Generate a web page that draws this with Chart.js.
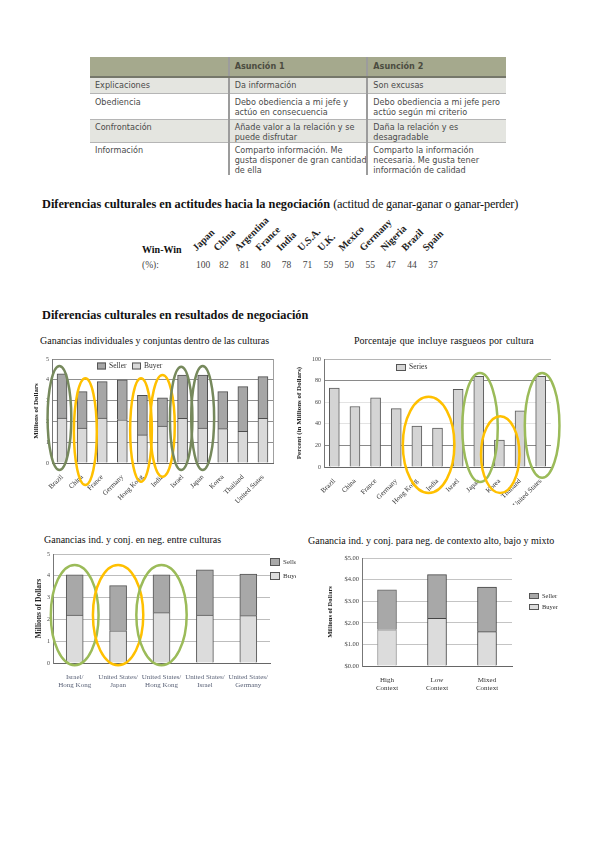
<!DOCTYPE html>
<html>
<head>
<meta charset="utf-8">
<script src="https://cdn.jsdelivr.net/npm/chart.js@4.4.1/dist/chart.umd.min.js"></script>
<style>
  body { margin: 0; width: 600px; height: 848px; background: #fff; position: relative; overflow: hidden;
         font-family: "Liberation Serif", serif; color: #111; }
  .abs { position: absolute; white-space: nowrap; }
  canvas { position: absolute; }

  #tabla { position: absolute; left: 90px; top: 57px; width: 416px; height: 118px; overflow: hidden; }
  #tabla table { border-collapse: collapse; width: 416px; table-layout: fixed;
                 font-family: "DejaVu Sans", sans-serif; font-size: 8.1px; color: #4a4a4a; }
  #tabla th { background: #a5a98d; height: 17px; text-align: left; padding: 0 5px 2px; font-weight: bold;
              color: #4b4c40; border-bottom: 2px solid #75776a; }
  #tabla td { vertical-align: top; padding: 2px 5px 0; line-height: 10px; border-top: 1px solid #b5b5b5;
              white-space: pre; overflow: hidden; }
  #tabla th + th, #tabla td + td { border-left: 2px solid #9c9c9c; }
  #tabla tr.f1 td, #tabla tr.f3 td { background: #e4e5e0; }
  #tabla tr.f1 td { height: 13px; }
  #tabla tr.f2 td { height: 22px; padding-top: 3px; }
  #tabla tr.f3 td { height: 20px; }
  #tabla tr.f4 td { height: 31px; }

  .titulo { font-size: 12.3px; }
  .tgraf { font-size: 10px; color: #111; }
  .pais { position: absolute; font-weight: bold; font-size: 10px; transform-origin: 0 100%;
          transform: rotate(-45deg); white-space: nowrap; color: #222; }
  .num { position: absolute; font-size: 9.5px; color: #444; width: 20px; text-align: center; }
</style>
</head>
<body>

<div id="tabla"></div>

<div class="abs titulo" style="left:42px; top:197px;"><b>Diferencias culturales en actitudes hacia la negociación</b> <span style="letter-spacing:-0.2px">(actitud de ganar-ganar o ganar-perder)</span></div>

<div id="winwin">
  <div class="abs" style="left:142px; top:244px; font-size:10px; font-weight:bold;">Win-Win</div>
  <div class="abs" style="left:142px; top:260px; font-size:9.5px; color:#444;">(%):</div>
</div>

<div class="abs titulo" style="left:42px; top:308px;"><b>Diferencias culturales en resultados de negociación</b></div>

<div class="abs tgraf" style="left:40px; top:335px;">Ganancias individuales y conjuntas dentro de las culturas</div>
<div class="abs tgraf" style="left:354px; top:335px; word-spacing:1px;">Porcentaje que incluye rasgueos por cultura</div>
<div class="abs tgraf" style="left:44px; top:534px;">Ganancias ind. y conj. en neg. entre culturas</div>
<div class="abs tgraf" style="left:308px; top:535px;">Ganancia ind. y conj. para neg. de contexto alto, bajo y mixto</div>

<canvas id="c1" width="258" height="172" style="left:28px; top:333px;"></canvas>
<canvas id="c2" width="280" height="172" style="left:290px; top:333px;"></canvas>
<canvas id="c3" width="268" height="160" style="left:28px; top:530px;"></canvas>
<canvas id="c4" width="270" height="160" style="left:300px; top:530px;"></canvas>

<script>
// --- tabla de supuestos ---
const tablaCabecera = ['', 'Asunción 1', 'Asunción 2'];
const tablaFilas = [
  ['Explicaciones', 'Da información', 'Son excusas'],
  ['Obediencia', 'Debo obediencia a mi jefe y\nactúo en consecuencia', 'Debo obediencia a mi jefe pero\nactúo según mi criterio'],
  ['Confrontación', 'Añade valor a la relación y se\npuede disfrutar', 'Daña la relación y es\ndesagradable'],
  ['Información', 'Comparto información. Me\ngusta disponer de gran cantidad\nde ella', 'Comparto la información\nnecesaria. Me gusta tener\ninformación de calidad']
];

// --- actitud ganar-ganar ---
const paisesWinWin = ['Japan', 'China', 'Argentina', 'France', 'India', 'U.S.A.', 'U.K.', 'Mexico', 'Germany', 'Nigeria', 'Brazil', 'Spain'];
const porcWinWin = [100, 82, 81, 80, 78, 71, 59, 50, 55, 47, 44, 37];

// --- grafico 1: dentro de las culturas ---
const culturas1 = ['Brazil', 'China', 'France', 'Germany', 'Hong Kong', 'India', 'Israel', 'Japan', 'Korea', 'Thailand', 'United States'];
const comprador1 = [2.16, 1.68, 2.16, 2.08, 1.35, 1.78, 2.15, 1.68, 1.65, 1.52, 2.15];
const vendedor1 = [2.13, 1.75, 1.75, 1.92, 1.90, 1.35, 2.08, 2.55, 1.78, 2.15, 2.00];

// --- grafico 2: rasgueos ---
const culturas2 = ['Brazil', 'China', 'France', 'Germany', 'Hong Kong', 'India', 'Israel', 'Japan', 'Korea', 'Thailand', 'United States'];
const rasgueos2 = [73, 56, 64, 54, 38, 36, 72, 84, 25, 52, 84];

// --- grafico 3: entre culturas ---
const parejas3 = [['Israel/', 'Hong Kong'], ['United States/', 'Japan'], ['United States/', 'Hong Kong'], ['United States/', 'Israel'], ['United States/', 'Germany']];
const comprador3 = [2.20, 1.48, 2.31, 2.20, 2.17];
const vendedor3 = [1.85, 2.07, 1.74, 2.07, 1.91];

// --- grafico 4: contexto ---
const contextos4 = [['High', 'Context'], ['Low', 'Context'], ['Mixed', 'Context']];
const comprador4 = [1.68, 2.21, 1.59];
const vendedor4 = [1.85, 2.02, 2.06];

const verde1 = '#76895c', verde = '#9bbb59', amarillo = '#ffc000';

// construir la tabla
(function () {
  let html = '<table><tr>' + tablaCabecera.map(t => '<th>' + t + '</th>').join('') + '</tr>';
  tablaFilas.forEach((f, i) => {
    html += '<tr class="f' + (i + 1) + '">' + f.map(t => '<td>' + t + '</td>').join('') + '</tr>';
  });
  document.getElementById('tabla').innerHTML = html + '</table>';
})();

// fila win-win
(function () {
  const cont = document.getElementById('winwin');
  paisesWinWin.forEach((p, i) => {
    const cx = 203 + i * 20.9;
    const n = document.createElement('div');
    n.className = 'num';
    n.style.left = (cx - 10) + 'px';
    n.style.top = '260px';
    n.textContent = porcWinWin[i];
    cont.appendChild(n);
    const e = document.createElement('div');
    e.className = 'pais';
    e.style.left = (cx - 5) + 'px';
    e.style.top = '242px';
    e.textContent = p;
    cont.appendChild(e);
  });
})();

// elipses de resaltado, situadas con las escalas
const elipses = {
  id: 'elipses',
  afterDatasetsDraw(chart, args, opts) {
    if (!opts.items) return;
    const ctx = chart.ctx, x = chart.scales.x, y = chart.scales.y;
    const paso = x.width / chart.data.labels.length;
    opts.items.forEach(e => {
      const x0 = x.getPixelForValue(e.desde), x1 = x.getPixelForValue(e.hasta);
      const cx = (x0 + x1) / 2 + (e.dx || 0) * paso;
      const rx = (x1 - x0) / 2 + e.ancho * paso;
      const yt = y.getPixelForValue(e.arriba), yb = y.getPixelForValue(e.abajo);
      ctx.save();
      ctx.beginPath();
      ctx.ellipse(cx, (yt + yb) / 2, rx, (yb - yt) / 2, 0, 0, Math.PI * 2);
      ctx.lineWidth = opts.grosor || 2.5;
      ctx.strokeStyle = e.color;
      ctx.stroke();
      ctx.restore();
    });
  }
};

// leyenda con cajas en una posicion fija
const leyenda = {
  id: 'leyenda',
  afterDraw(chart, args, o) {
    if (o.x == null) return;
    const ctx = chart.ctx;
    const sets = chart.data.datasets.slice().reverse();
    let x = o.x, y = o.y;
    ctx.save();
    ctx.font = o.fuente;
    ctx.textBaseline = 'middle';
    sets.forEach(ds => {
      ctx.fillStyle = Array.isArray(ds.backgroundColor) ? ds.backgroundColor[0] : ds.backgroundColor;
      ctx.fillRect(x, y - o.alto / 2, o.ancho, o.alto);
      ctx.strokeStyle = '#555';
      ctx.lineWidth = 1;
      ctx.strokeRect(x + 0.5, y - o.alto / 2 + 0.5, o.ancho - 1, o.alto - 1);
      ctx.fillStyle = '#333';
      ctx.fillText(ds.label, x + o.ancho + 3, y);
      if (o.vertical) y += o.paso; else x += o.paso;
    });
    ctx.restore();
  }
};

// linea del marco a la derecha
const marco = {
  id: 'marco',
  beforeDatasetsDraw(chart, args, o) {
    if (!o.color) return;
    const a = chart.chartArea, ctx = chart.ctx;
    ctx.save();
    ctx.strokeStyle = o.color;
    ctx.lineWidth = 1;
    ctx.beginPath();
    ctx.moveTo(Math.round(a.right) + 0.5, a.top);
    ctx.lineTo(Math.round(a.right) + 0.5, a.bottom);
    ctx.stroke();
    ctx.restore();
  }
};

Chart.register(elipses, leyenda, marco);
Chart.defaults.font.family = '"Liberation Serif", serif';
Chart.defaults.color = '#333';
Chart.defaults.animation = false;
Chart.defaults.plugins.legend.display = false;
Chart.defaults.plugins.tooltip.enabled = false;

const bordeBarra = { left: 1, right: 1, top: 1, bottom: 0 };

function ejeY(o) {
  return {
    min: 0, max: o.max, stacked: true,
    afterFit: s => { s.width = o.ancho; },
    ticks: { stepSize: o.paso, font: { size: o.tam || 6 }, color: '#444', padding: 3, callback: o.formato },
    grid: { color: o.rejilla, drawTicks: false },
    border: { color: '#777' },
    title: { display: true, text: o.titulo, font: { size: o.tamTitulo || 7, weight: 'bold' }, color: '#222', padding: { top: o.margenTitulo || 2, bottom: 0 } }
  };
}

function ejeX(o) {
  return {
    stacked: true,
    afterFit: s => { s.height = o.alto; },
    grid: { display: false },
    border: { color: '#666' },
    ticks: { font: { size: o.tam || 6.5 }, color: o.color || '#333', padding: 2, autoSkip: false,
             minRotation: o.giro || 0, maxRotation: o.giro || 0 }
  };
}

// grafico 1
new Chart(document.getElementById('c1'), {
  type: 'bar',
  data: {
    labels: culturas1,
    datasets: [
      { label: 'Buyer', data: comprador1, backgroundColor: '#d9d9d9', borderColor: '#4d4d4d', borderWidth: bordeBarra, barThickness: 10 },
      { label: 'Seller', data: vendedor1, backgroundColor: '#a6a6a6', borderColor: '#4d4d4d', borderWidth: bordeBarra, barThickness: 10 }
    ]
  },
  options: {
    responsive: false,
    layout: { padding: { left: 0, right: 13, top: 26, bottom: 0 } },
    scales: {
      x: ejeX({ alto: 42, giro: 45, tam: 7 }),
      y: ejeY({ max: 5, paso: 1, ancho: 24, rejilla: '#8f8f8f', titulo: 'Millions of Dollars', margenTitulo: 4 })
    },
    plugins: {
      marco: { color: '#a0a0a0' },
      leyenda: { x: 69, y: 33, ancho: 9, alto: 7, paso: 35, fuente: '7.5px "Liberation Serif"' },
      elipses: {
        grosor: 2.5,
        items: [
          { desde: 0, hasta: 0, dx: -0.13, ancho: 0.59, arriba: 4.66, abajo: -0.34, color: verde1 },
          { desde: 1, hasta: 1, dx: 0.16, ancho: 0.57, arriba: 4.07, abajo: -1.06, color: amarillo },
          { desde: 4, hasta: 4, dx: -0.07, ancho: 0.54, arriba: 4.07, abajo: -0.9, color: amarillo },
          { desde: 5, hasta: 5, dx: 0, ancho: 0.61, arriba: 4.23, abajo: -0.66, color: amarillo },
          { desde: 6, hasta: 6, dx: -0.07, ancho: 0.56, arriba: 4.63, abajo: -0.34, color: verde1 },
          { desde: 7, hasta: 7, dx: 0, ancho: 0.57, arriba: 4.66, abajo: -0.34, color: verde1 }
        ]
      }
    }
  }
});

// grafico 2
const rejilla2 = c => {
  const v = c.tick && c.tick.value;
  if (v === 20 || v === 80) return '#8a8a8a';
  if (v === 100) return '#b5b5b5';
  return '#e3e3e3';
};
new Chart(document.getElementById('c2'), {
  type: 'bar',
  data: {
    labels: culturas2,
    datasets: [
      { label: 'Series', data: rasgueos2, backgroundColor: '#d4d4d4', borderColor: '#5a5a5a', borderWidth: bordeBarra, barThickness: 10 }
    ]
  },
  options: {
    responsive: false,
    layout: { padding: { left: 0, right: 19, top: 26, bottom: 0 } },
    scales: {
      x: ejeX({ alto: 38, giro: 45, tam: 7 }),
      y: ejeY({ max: 100, paso: 20, ancho: 34, rejilla: rejilla2, titulo: 'Percent (in Millions of Dollars)', margenTitulo: 5, tamTitulo: 7 })
    },
    plugins: {
      leyenda: { x: 106, y: 34.5, ancho: 10, alto: 7, paso: 30, fuente: '7.5px "Liberation Serif"' },
      elipses: {
        grosor: 2.5,
        items: [
          { desde: 4, hasta: 5, dx: 0.07, ancho: 0.75, arriba: 65, abajo: -24, color: amarillo },
          { desde: 7, hasta: 7, dx: 0.06, ancho: 0.86, arriba: 87, abajo: -14, color: verde },
          { desde: 8, hasta: 8, dx: 0.04, ancho: 0.93, arriba: 47, abajo: -24, color: amarillo },
          { desde: 10, hasta: 10, dx: 0.07, ancho: 0.84, arriba: 87, abajo: -10, color: verde }
        ]
      }
    }
  }
});

// grafico 3
new Chart(document.getElementById('c3'), {
  type: 'bar',
  data: {
    labels: parejas3,
    datasets: [
      { label: 'Buyer', data: comprador3, backgroundColor: '#dcdcdc', borderColor: '#555', borderWidth: bordeBarra, barThickness: 17 },
      { label: 'Seller', data: vendedor3, backgroundColor: '#a8a8a8', borderColor: '#555', borderWidth: bordeBarra, barThickness: 17 }
    ]
  },
  options: {
    responsive: false,
    layout: { padding: { left: 0, right: 26, top: 24, bottom: 0 } },
    scales: {
      x: ejeX({ alto: 27, tam: 7, color: '#5b6378' }),
      y: ejeY({ max: 5, paso: 1, ancho: 25, rejilla: '#bdbdbd', titulo: 'Millions of Dollars', margenTitulo: 7, tamTitulo: 7.5 })
    },
    plugins: {
      leyenda: { x: 242, y: 32, ancho: 10, alto: 8, paso: 14, vertical: true, fuente: '7px "Liberation Serif"' },
      elipses: {
        grosor: 2.5,
        items: [
          { desde: 0, hasta: 0, dx: 0, ancho: 0.55, arriba: 4.5, abajo: -0.1, color: verde },
          { desde: 1, hasta: 1, dx: 0, ancho: 0.58, arriba: 4.5, abajo: -0.1, color: amarillo },
          { desde: 2, hasta: 2, dx: 0, ancho: 0.58, arriba: 4.5, abajo: -0.1, color: verde }
        ]
      }
    }
  }
});

// grafico 4
new Chart(document.getElementById('c4'), {
  type: 'bar',
  data: {
    labels: contextos4,
    datasets: [
      { label: 'Buyer', data: comprador4, backgroundColor: '#dcdcdc', borderColor: ['#9a9a9a', '#444', '#444'], borderWidth: bordeBarra, barThickness: 19 },
      { label: 'Seller', data: vendedor4, backgroundColor: '#a8a8a8', borderColor: ['#666', '#444', '#444'], borderWidth: bordeBarra, barThickness: 19 }
    ]
  },
  options: {
    responsive: false,
    layout: { padding: { left: 24, right: 58, top: 28, bottom: 0 } },
    scales: {
      x: ejeX({ alto: 24, tam: 7, color: '#333' }),
      y: ejeY({ max: 5, paso: 1, ancho: 38, rejilla: '#c4c4c4', titulo: 'Millions of Dollars', margenTitulo: 2, tamTitulo: 6.5, tam: 6.5,
                formato: v => '$' + v.toFixed(2) })
    },
    plugins: {
      leyenda: { x: 229, y: 66, ancho: 10, alto: 6, paso: 11, vertical: true, fuente: '6.5px "Liberation Serif"' }
    }
  }
});
</script>
</body>
</html>
